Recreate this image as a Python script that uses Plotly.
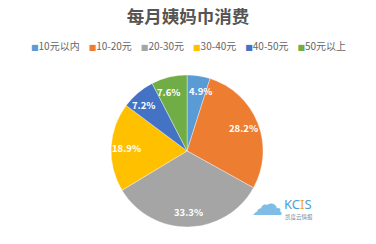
import math
import plotly.graph_objects as go

labels = ["10元以内", "10-20元", "20-30元", "30-40元", "40-50元", "50元以上"]
values = [4.9, 28.2, 33.3, 18.9, 7.2, 7.6]
colors = ["#5B9BD5", "#ED7D31", "#A5A5A5", "#FFC000", "#4472C4", "#70AD47"]

W, H = 376, 244
dom_x = [0.285, 0.71]
dom_y = [0.07, 0.693]

fig = go.Figure(go.Pie(
    labels=labels, values=values, sort=False, direction="clockwise", rotation=0,
    marker=dict(colors=colors, line=dict(color="rgba(255,255,255,0.6)", width=0.6)),
    textinfo="none",
    domain=dict(x=dom_x, y=dom_y),
    hoverinfo="skip", showlegend=False,
))

# data labels placed along each slice's mid-angle (Excel "best fit" style)
cx = (dom_x[0] + dom_x[1]) / 2 * W
cy = (dom_y[0] + dom_y[1]) / 2 * H
radius = min((dom_x[1] - dom_x[0]) * W, (dom_y[1] - dom_y[0]) * H) / 2
total = sum(values)
annotations = []
cum = 0.0
for v in values:
    mid = (cum + v / 2) / total * 2 * math.pi
    cum += v
    px = cx + 0.8 * radius * math.sin(mid)
    py = cy + 0.8 * radius * math.cos(mid)
    # narrow slices: nudge labels apart sideways so neighbours don't collide
    shift = 4 * (1 if math.sin(mid) > 0 else -1) if v < 10 else 0
    annotations.append(dict(
        text=f"<b>{v:.1f}%</b>", x=px / W, y=py / H, xref="paper", yref="paper",
        xanchor="center", yanchor="middle", showarrow=False, xshift=shift,
        font=dict(family="Noto Sans CJK SC", size=9.5, color="white")))

legend_text = "&nbsp;&nbsp;&nbsp;&nbsp;".join(
    f'<span style="color:{c};font-size:8px;font-family:DejaVu Sans">■</span>{l}'
    for l, c in zip(labels, colors)
)

annotations += [
    dict(text=legend_text, x=0.5, y=1 - 45/H, xref="paper", yref="paper", xanchor="center",
         yanchor="middle", showarrow=False,
         font=dict(family="Noto Sans CJK SC", size=10, color="#666666")),
    dict(text="☁", x=267/W, y=1 - 204/H, xref="paper", yref="paper", xanchor="center",
         yanchor="middle", showarrow=False,
         font=dict(family="DejaVu Sans", size=32, color="#7FBCE6")),
    dict(text='KC<span style="color:#F2A33A">I</span>S', x=282/W, y=1 - 204/H, xref="paper", yref="paper",
         xanchor="left", yanchor="middle", showarrow=False,
         font=dict(family="Noto Sans", size=13, color="#4A9FD8")),
    dict(text="凯度云情报", x=283/W, y=1 - 217/H, xref="paper", yref="paper", xanchor="left",
         yanchor="middle", showarrow=False,
         font=dict(family="Noto Sans CJK SC", size=5.5, color="#7a8a99")),
]

fig.update_layout(
    width=W, height=H,
    margin=dict(l=0, r=0, t=0, b=0),
    paper_bgcolor="white", plot_bgcolor="white",
    title=dict(text="<b>每月姨妈巾消费</b>", x=0.5, xanchor="center", y=1 - 17/H, yanchor="middle",
               font=dict(family="Noto Sans CJK SC", size=17.5, color="#555555")),
    annotations=annotations,
)

fig.write_html("out.html")
